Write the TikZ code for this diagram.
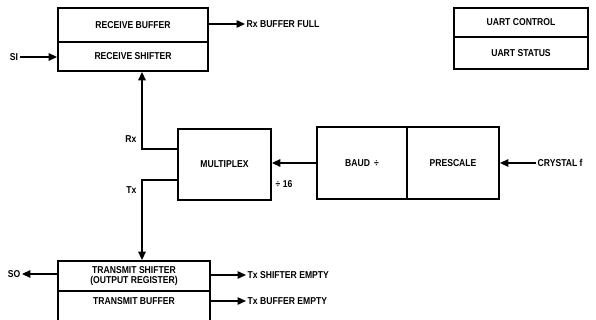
\documentclass[tikz,border=0pt]{standalone}
\usepackage{fontspec}
\newfontfamily\labfont{Liberation Sans}[FakeStretch=0.86]
\usetikzlibrary{arrows.meta}
\begin{document}
\begin{tikzpicture}[x=1pt,y=-1pt,
  box/.style={draw,line width=1.8pt,minimum width=#1,inner sep=0pt},
  txt/.style={font=\labfont\bfseries\fontsize{10}{10.5}\selectfont,inner sep=1.5pt,align=center},
  arr/.style={line width=1.4pt,-{Triangle[length=8.5pt,width=7.5pt]}},
  conn/.style={line width=1.4pt}]
\useasboundingbox[fill=white] (0,0) rectangle (596,320);
% receive block
\node[box=150pt,minimum height=34pt,txt] (rbuf) at (133,25) {RECEIVE BUFFER};
\node[box=150pt,minimum height=29pt,txt] (rshift) at (133,56.5) {RECEIVE SHIFTER};
% UART block
\node[box=134pt,minimum height=29pt,txt] (uc) at (521,22.5) {UART CONTROL};
\node[box=134pt,minimum height=32pt,txt] (us) at (521,53) {UART STATUS};
% multiplex
\node[box=93pt,minimum height=71pt,txt] (mux) at (224.5,164.5) {MULTIPLEX};
% baud / prescale
\node[box=90pt,minimum height=72pt,txt] (baud) at (362,163) {BAUD \,÷};
\node[box=92pt,minimum height=72pt,txt] (pre) at (453,163) {PRESCALE};
% transmit block
\node[box=152pt,minimum height=30pt,txt] (ts) at (134,276) {TRANSMIT SHIFTER\\[-1pt](OUTPUT REGISTER)};
\node[box=152pt,minimum height=34pt] (tb) at (134,308) {};
\node[txt] (tbt) at (134,301) {TRANSMIT BUFFER};
% labels
\node[txt] (si) at (14,57) {SI};
\node[txt,anchor=west] (rxf) at (245,24) {Rx BUFFER FULL};
\node[txt,anchor=east] (rxl) at (138,139) {Rx};
\node[txt,anchor=east] (txl) at (138,190) {Tx};
\node[txt] (d16) at (284,184) {÷ 16};
\node[txt,anchor=west] (cry) at (536,163) {CRYSTAL f};
\node[txt] (so) at (14,274) {SO};
\node[txt,anchor=west] (tse) at (246,275) {Tx SHIFTER EMPTY};
\node[txt,anchor=west] (tbe) at (246,301) {Tx BUFFER EMPTY};
% connectors
\coordinate (rxc) at (142,149);
\coordinate (txc) at (142,180);
\draw[arr] (si.east) -- (si.east -| rshift.west);
\draw[arr] (rbuf.east |- rxf.west) -- (rxf.west);
\draw[arr] (mux.west |- rxc) -- (rxc) -- (rxc |- rshift.south);
\draw[arr] (mux.west |- txc) -- (txc) -- (txc |- ts.north);
\draw[arr] (baud.west) -- (baud.west -| mux.east);
\draw[arr] (cry.west) -- (cry.west -| pre.east);
\draw[arr] (ts.west |- so.east) -- (so.east);
\draw[arr] (ts.east |- tse.west) -- (tse.west);
\draw[arr] (tb.east |- tbe.west) -- (tbe.west);
\end{tikzpicture}
\end{document}
